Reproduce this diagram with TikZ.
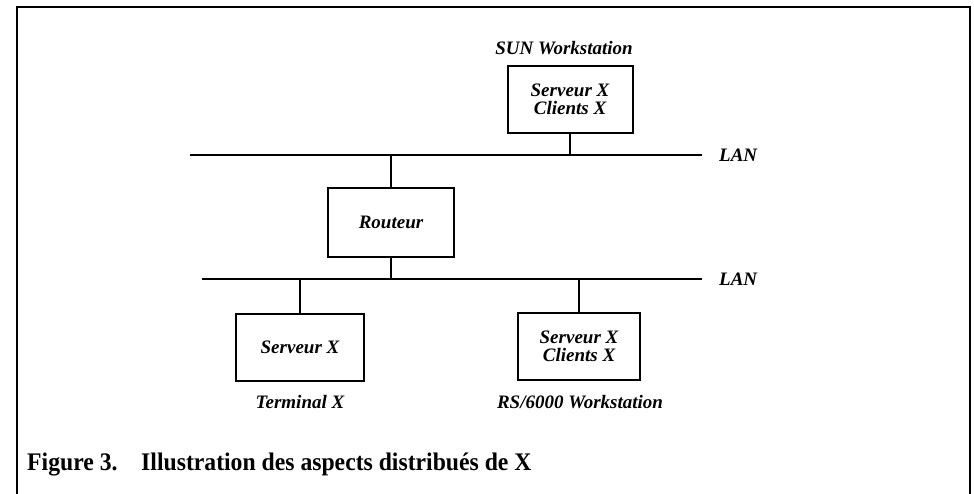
\documentclass[tikz,border=0pt]{standalone}
\usepackage{fontspec}
\setmainfont{Liberation Serif}
\usetikzlibrary{calc}
\begin{document}
\begin{tikzpicture}[x=1pt,y=-1pt,
  box/.style={draw,line width=2pt,minimum width=#1,inner sep=0pt},
  lbl/.style={font=\fontsize{19}{18}\selectfont\bfseries\itshape,inner sep=0pt,align=center},
  lan/.style={line width=1.8pt},
  conn/.style={line width=1.4pt}]
\useasboundingbox (0,0) rectangle (974,493);
\draw[line width=2.5pt] (17,500) -- (17,7) -- (970,7) -- (970,500);
% nodes
\node[box=125pt,minimum height=67pt,lbl] (sun) at (570,99) {Serveur X\\Clients X};
\node[lbl] (sunlab) at (564,48) {SUN Workstation};
\node[box=126pt,minimum height=69pt,lbl] (router) at (391,222.5) {Routeur};
\node[box=128pt,minimum height=67pt,lbl] (term) at (300,347.5) {Serveur X};
\node[lbl] (termlab) at (300,402) {Terminal X};
\node[box=122pt,minimum height=67pt,lbl] (rs) at (579,346) {Serveur X\\Clients X};
\node[lbl] (rslab) at (580,402) {RS/6000 Workstation};
% LANs
\coordinate (l1w) at (190,155);
\coordinate (l1e) at (702,155);
\coordinate (l2w) at (202,279);
\coordinate (l2e) at (702,279);
\draw[lan] (l1w) -- (l1e);
\draw[lan] (l2w) -- (l2e);
\node[lbl,anchor=west] (lan1) at ($(l1e)+(17,0)$) {LAN};
\node[lbl,anchor=west] (lan2) at ($(l2e)+(17,0)$) {LAN};
% connectors
\draw[conn] (sun.south) -- (sun.south |- l1w);
\draw[conn] (router.north) -- (router.north |- l1w);
\draw[conn] (router.south) -- (router.south |- l2w);
\draw[conn] (term.north) -- (term.north |- l2w);
\draw[conn] (rs.north) -- (rs.north |- l2w);
% caption
\node[anchor=base west,inner sep=0pt] (cap) at (27,470) {\scalebox{1.03}[1.1]{\fontsize{23}{27}\selectfont\bfseries Figure 3.\hspace{1em}Illustration des aspects distribués de X}};
\end{tikzpicture}
\end{document}
